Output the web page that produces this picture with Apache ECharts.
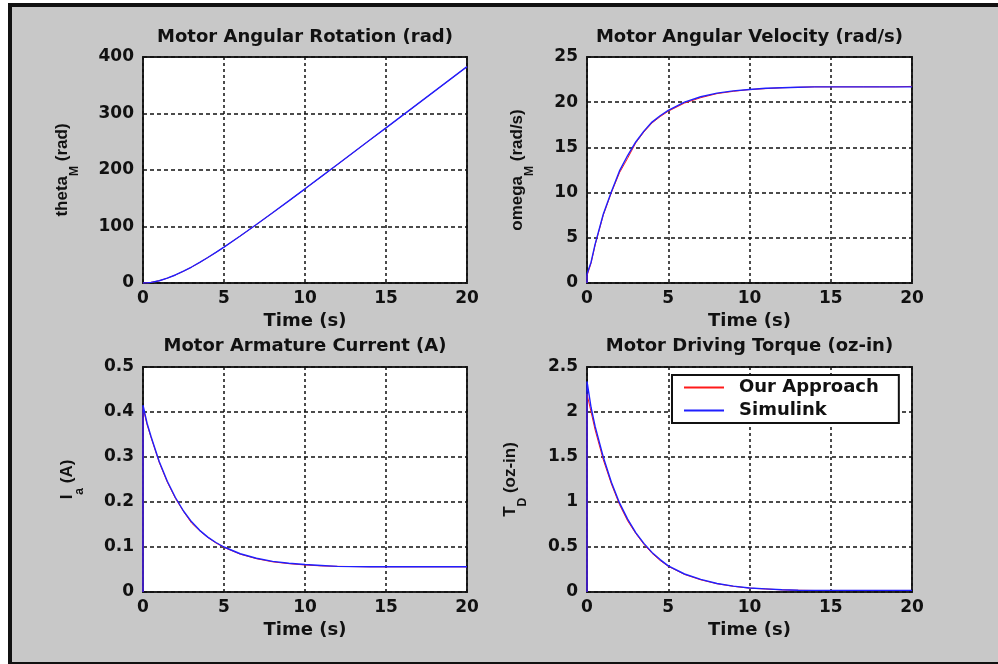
<!DOCTYPE html>
<html>
<head>
<meta charset="utf-8">
<script src="https://cdn.jsdelivr.net/npm/echarts@6/dist/echarts.min.js"></script>
<style>
html,body{margin:0;padding:0;background:#fff;}
#chart{width:998px;height:664px;}
</style>
</head>
<body>
<div id="chart"></div>
<script>
// Time samples (s)
var time = [0, 0, 0.25, 0.5, 1, 1.5, 2, 2.5, 3, 3.5, 4, 4.5, 5, 6, 7, 8, 9, 10, 11, 12, 13, 14, 15, 16, 17, 18, 19, 20];

// Motor angular rotation (rad)
var thetaOurs     = [0, 0, 0.3, 1.1, 4.0, 8.5, 14.2, 20.8, 28.2, 36.3, 45.0, 54.0, 63.5, 83.1, 103.4, 124.2, 145.3, 166.6, 188.1, 209.6, 231.3, 253.0, 274.4, 296.1, 317.8, 339.5, 361.2, 382.9];
var thetaSimulink = [0, 0, 0.3, 1.1, 4.0, 8.5, 14.2, 20.9, 28.3, 36.4, 45.1, 54.1, 63.6, 83.2, 103.5, 124.3, 145.4, 166.7, 188.2, 209.7, 231.4, 253.1, 274.5, 296.2, 317.9, 339.6, 361.3, 383.0];

// Motor angular velocity (rad/s)
var omegaOurs     = [0, 0.8, 2.2, 4.2, 7.5, 10.0, 12.2, 13.8, 15.5, 16.7, 17.7, 18.4, 19.0, 19.9, 20.5, 20.95, 21.2, 21.4, 21.5, 21.6, 21.65, 21.7, 21.7, 21.7, 21.7, 21.7, 21.7, 21.75];
var omegaSimulink = [0, 1.0, 2.3, 4.3, 7.6, 10.1, 12.4, 14.1, 15.6, 16.8, 17.8, 18.5, 19.1, 20.0, 20.6, 21.0, 21.25, 21.4, 21.55, 21.6, 21.65, 21.7, 21.7, 21.7, 21.7, 21.7, 21.7, 21.7];

// Motor armature current (A)
var currentOurs     = [0, 0.41, 0.372, 0.343, 0.288, 0.244, 0.208, 0.179, 0.153, 0.136, 0.121, 0.109, 0.099, 0.084, 0.074, 0.067, 0.063, 0.060, 0.058, 0.057, 0.0565, 0.056, 0.056, 0.056, 0.056, 0.056, 0.056, 0.056];
var currentSimulink = [0, 0.415, 0.375, 0.345, 0.29, 0.246, 0.21, 0.18, 0.156, 0.137, 0.122, 0.11, 0.10, 0.085, 0.075, 0.068, 0.064, 0.061, 0.059, 0.057, 0.0565, 0.056, 0.056, 0.056, 0.056, 0.056, 0.056, 0.056];

// Motor driving torque (oz-in)
var torqueOurs     = [0, 2.2, 2.0, 1.8, 1.47, 1.2, 0.97, 0.79, 0.65, 0.53, 0.43, 0.35, 0.285, 0.195, 0.135, 0.092, 0.063, 0.043, 0.033, 0.024, 0.019, 0.017, 0.017, 0.017, 0.017, 0.017, 0.017, 0.017];
var torqueSimulink = [0, 2.34, 2.05, 1.84, 1.5, 1.22, 0.99, 0.81, 0.66, 0.54, 0.44, 0.36, 0.29, 0.20, 0.14, 0.095, 0.065, 0.045, 0.035, 0.025, 0.02, 0.018, 0.018, 0.018, 0.018, 0.018, 0.018, 0.018];

var titles = ['Motor Angular Rotation (rad)', 'Motor Angular Velocity (rad/s)', 'Motor Armature Current (A)', 'Motor Driving Torque (oz-in)'];
var seriesNames = ['Our Approach', 'Simulink'];
var xName = 'Time (s)';
var yNames = ['{a|theta}{s|M}{a| (rad)}', '{a|omega}{s|M}{a| (rad/s)}', '{a|I}{s|a}{a| (A)}', '{a|T}{s|D}{a| (oz-in)}'];
var yMax = [400, 25, 0.5, 2.5];
var yStep = [100, 5, 0.1, 0.5];

function pairs(xs, ys) { return xs.map(function (x, i) { return [x, ys[i]]; }); }
var red = [thetaOurs, omegaOurs, currentOurs, torqueOurs];
var blue = [thetaSimulink, omegaSimulink, currentSimulink, torqueSimulink];

var FONT = 'DejaVu Sans';
var NFONT = 'Liberation Sans';
var grids = [
  {left: 143, top: 57, width: 324, height: 226},
  {left: 587, top: 57, width: 325, height: 226},
  {left: 143, top: 367, width: 324, height: 225},
  {left: 587, top: 367, width: 325, height: 225}
];
var nameGaps = [70, 59, 65, 66];

var option = {
  backgroundColor: '#c8c8c8',
  animation: false,
  textStyle: {fontFamily: FONT},
  title: grids.map(function (g, i) {
    return {
      text: titles[i], left: g.left + g.width / 2, top: i < 2 ? 28 : 337, textAlign: 'center', padding: 0,
      textStyle: {fontFamily: FONT, fontSize: 18, fontWeight: 'bold', color: '#111'}
    };
  }),
  grid: grids.map(function (g) {
    return {left: g.left, top: g.top, width: g.width, height: g.height, show: true, backgroundColor: '#fff', borderColor: '#222', borderWidth: 2, containLabel: false};
  }),
  xAxis: grids.map(function (g, i) {
    return {
      type: 'value', gridIndex: i, min: 0, max: 20, interval: 5,
      name: xName, nameLocation: 'middle', nameGap: 29,
      nameTextStyle: {fontFamily: FONT, fontSize: 18, fontWeight: 'bold', color: '#111'},
      axisLine: {show: false}, axisTick: {show: false},
      axisLabel: {margin: 7, fontFamily: FONT, fontSize: 17, fontWeight: 'bold', color: '#111'},
      splitLine: {show: true, lineStyle: {color: '#111', width: 1.5, type: [3, 3]}}
    };
  }),
  yAxis: grids.map(function (g, i) {
    return {
      type: 'value', gridIndex: i, min: 0, max: yMax[i], interval: yStep[i],
      name: yNames[i], nameLocation: 'middle', nameGap: nameGaps[i], nameRotate: 90,
      nameTextStyle: {
        fontFamily: NFONT, color: '#111',
        rich: {
          a: {fontFamily: NFONT, fontSize: 17, fontWeight: 'bold', color: '#111', lineHeight: 19, verticalAlign: 'top'},
          s: {fontFamily: NFONT, fontSize: 12, fontWeight: 'bold', color: '#111', lineHeight: 13, verticalAlign: 'top', padding: [15, 0, 0, 0]}
        }
      },
      axisLine: {show: false}, axisTick: {show: false},
      axisLabel: {margin: 9, fontFamily: FONT, fontSize: 17, fontWeight: 'bold', color: '#111', padding: [4, 0, 0, 0]},
      splitLine: {show: true, lineStyle: {color: '#111', width: 1.5, type: [4, 3]}}
    };
  }),
  legend: {
    data: seriesNames, orient: 'vertical', left: 672, top: 375, icon: 'rect',
    backgroundColor: '#fff', borderColor: '#111', borderWidth: 2,
    padding: [2, 20, 2, 12], itemGap: 2, itemWidth: 40, itemHeight: 2,
    textStyle: {fontFamily: FONT, fontSize: 18, fontWeight: 'bold', color: '#111', lineHeight: 21, padding: [0, 0, 0, 10]}
  },
  graphic: [
    {type: 'rect', silent: true, shape: {x: 0, y: 0, width: 998, height: 3}, style: {fill: '#fff'}},
    {type: 'rect', silent: true, shape: {x: 0, y: 0, width: 8, height: 664}, style: {fill: '#fff'}},
    {type: 'rect', silent: true, shape: {x: 8, y: 3, width: 990, height: 4}, style: {fill: '#111'}},
    {type: 'rect', silent: true, shape: {x: 8, y: 3, width: 4, height: 661}, style: {fill: '#111'}},
    {type: 'rect', silent: true, shape: {x: 8, y: 662, width: 990, height: 2}, style: {fill: '#111'}}
  ],
  series: []
};

for (var i = 0; i < 4; i++) {
  option.series.push({
    name: seriesNames[0], type: 'line', xAxisIndex: i, yAxisIndex: i,
    data: pairs(time, red[i]), symbol: 'none', showSymbol: false,
    lineStyle: {color: '#ff1a1a', width: 1}, itemStyle: {color: '#ff1a1a'}, z: 2
  });
  option.series.push({
    name: seriesNames[1], type: 'line', xAxisIndex: i, yAxisIndex: i,
    data: pairs(time, blue[i]), symbol: 'none', showSymbol: false,
    lineStyle: {color: '#1f1fff', width: 1.4}, itemStyle: {color: '#1f1fff'}, z: 3
  });
}

var chart = echarts.init(document.getElementById('chart'));
chart.setOption(option);
</script>
</body>
</html>
